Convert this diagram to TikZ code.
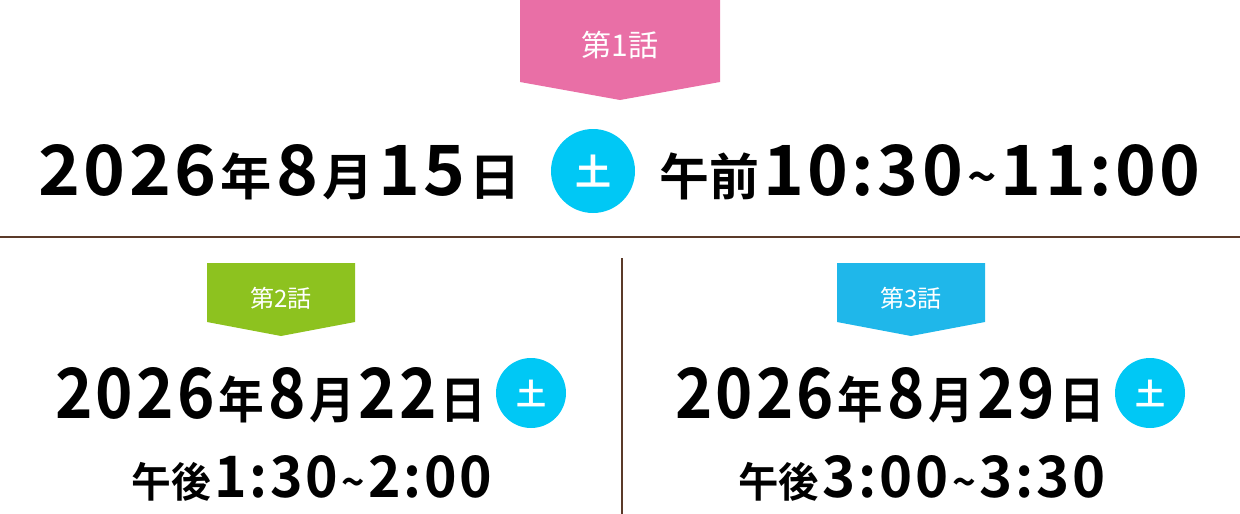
\documentclass[tikz,border=0pt]{standalone}
\usepackage{fontspec}
\setmainfont{Noto Sans CJK JP}[BoldFont={* Bold}]
\usepackage{graphicx}
\definecolor{pinkb}{HTML}{E96FA6}
\definecolor{greenb}{HTML}{8DC21F}
\definecolor{blueb}{HTML}{1FB7EA}
\definecolor{cyanc}{HTML}{00C8F5}
\definecolor{brownl}{HTML}{5B3A29}
\newcommand{\K}[1]{\kern0.06em{\fontsize{0.72em}{1em}\selectfont #1}\kern0.06em}
\newcommand{\G}{\kern0.05em}
\begin{document}
\begin{tikzpicture}[x=1pt,y=-1pt,
  lbl/.style={text=white,font=\fontsize{30}{32}\selectfont,inner sep=0},
  lbls/.style={text=white,font=\fontsize{24}{26}\selectfont,inner sep=0},
  date/.style={inner sep=0,anchor=base west,font=\bfseries},
  day/.style={circle,fill=cyanc,text=white,inner sep=0,font=\bfseries}]
\useasboundingbox (0,0) rectangle (1240,514);
% banners
\fill[pinkb] (520,0) -- (720,0) -- (720,82) -- (620,100) -- (520,82) -- cycle;
\node[lbl] (b1) at (620,45) {第1話};
\fill[greenb] (207,263) -- (355,263) -- (355,322) -- (281,336) -- (207,322) -- cycle;
\node[lbls] (b2) at (281,298) {第2話};
\fill[blueb] (837,263) -- (985,263) -- (985,322) -- (911,336) -- (837,322) -- cycle;
\node[lbls] (b3) at (911,298) {第3話};
% lines
\draw[brownl,line width=1.5] (0,237) -- (1240,237);
\draw[brownl,line width=1.5] (622,258) -- (622,514);
% line 1
\node[date] (d1) at (38,195) {\resizebox{487pt}{51pt}{2\G0\G2\G6\K{年}8\K{月}1\G5\K{日}}};
\node[day,minimum size=84,font=\bfseries\fontsize{36}{36}\selectfont] (c1) at (593,171) {土};
\node[date] (t1) at (655,195) {\resizebox{545pt}{51pt}{\K{午前}1\G0\G:\G3\G0\K{\textasciitilde}1\G1\G:\G0\G0}};
% line 2
\node[date] (d2) at (55,418) {\resizebox{435pt}{51pt}{2\G0\G2\G6\K{年}8\K{月}2\G2\K{日}}};
\node[day,minimum size=70,font=\bfseries\fontsize{30}{30}\selectfont] (c2) at (531,393) {土};
\node[date] (t2) at (128,497) {\resizebox{364pt}{42pt}{\K{午後}1\G:\G3\G0\K{\textasciitilde}2\G:\G0\G0}};
% line 3
\node[date] (d3) at (675,418) {\resizebox{433pt}{51pt}{2\G0\G2\G6\K{年}8\K{月}2\G9\K{日}}};
\node[day,minimum size=70,font=\bfseries\fontsize{30}{30}\selectfont] (c3) at (1150,393) {土};
\node[date] (t3) at (735,497) {\resizebox{370pt}{42pt}{\K{午後}3\G:\G0\G0\K{\textasciitilde}3\G:\G3\G0}};
\end{tikzpicture}
\end{document}
